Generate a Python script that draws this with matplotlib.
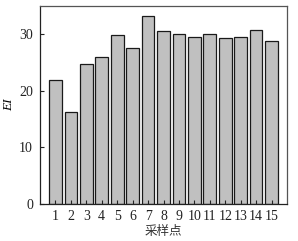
import matplotlib
matplotlib.use("Agg")
import matplotlib.pyplot as plt

categories = ["1", "2", "3", "4", "5", "6", "7", "8", "9", "10", "11", "12", "13", "14", "15"]
values = [21.9, 16.2, 24.8, 25.9, 29.9, 27.5, 33.3, 30.6, 30.0, 29.6, 30.0, 29.4, 29.6, 30.8, 28.9]
yticks = [0, 10, 20, 30]

plt.rcParams['font.family'] = ['Liberation Serif', 'Noto Sans CJK SC']
fig = plt.figure(figsize=(2.98, 2.41), dpi=100)
ax = fig.add_axes([40/298, 1 - 204/241, (287-40)/298, (204-6)/241])
x = list(range(1, len(categories) + 1))
ax.bar(x, values, width=0.82, color='#c0c0c0', edgecolor='#1a1a1a', linewidth=0.9)
ax.set_xlim(0, 16)
ax.set_ylim(0, 35)
ax.set_xticks(x)
ax.set_xticklabels(categories)
ax.set_yticks(yticks)
ax.tick_params(direction='in', length=3, width=0.8, labelsize=10, colors='#222222', pad=5)
ax.tick_params(axis='x', pad=4)
for s in ax.spines.values():
    s.set_color('#555555')
    s.set_linewidth(0.9)
ax.spines['left'].set_color('#222222')
ax.spines['bottom'].set_color('#222222')
ax.set_ylabel('EI', fontstyle='italic', fontsize=9.5, labelpad=3)
ax.set_xlabel('采样点', fontsize=9, family=['Noto Sans CJK SC'], fontweight='light',
              color='#333333', labelpad=2)
fig.savefig('out.png', dpi=100)
